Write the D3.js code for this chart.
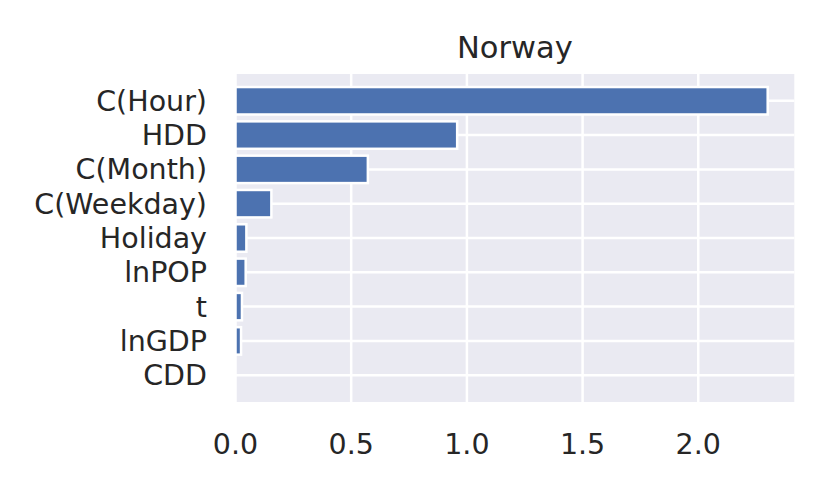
<!DOCTYPE html>
<html><head><meta charset="utf-8">
<script src="https://cdn.jsdelivr.net/npm/d3@7"></script>
<style>body{margin:0;background:#fff}svg{display:block}text{font-family:"DejaVu Sans",sans-serif;fill:#262626}</style>
</head><body>
<script>
const title = "Norway";
const categories = ["C(Hour)","HDD","C(Month)","C(Weekday)","Holiday","lnPOP","t","lnGDP","CDD"];
const values = [2.30, 0.958, 0.572, 0.155, 0.047, 0.044, 0.028, 0.024, 0.0];
const xTicks = [0, 0.5, 1.0, 1.5, 2.0];

const W = 830, H = 491;
const mLeft = 235.5, mRight = 794.3, mTop = 74, mBottom = 402;
const svg = d3.select("body").append("svg").attr("width", W).attr("height", H);

const x = d3.scaleLinear().domain([0, d3.max(values) * 1.05]).range([mLeft, mRight]);
const n = categories.length;
const y = d3.scaleLinear().domain([-0.78, n - 1 + 0.78]).range([mTop, mBottom]);

svg.append("rect").attr("x", mLeft).attr("y", mTop).attr("width", mRight - mLeft).attr("height", mBottom - mTop).attr("fill", "#EAEAF2");

// grid
svg.append("g").selectAll("line").data(xTicks).join("line")
  .attr("x1", d => x(d)).attr("x2", d => x(d)).attr("y1", mTop).attr("y2", mBottom)
  .attr("stroke", "#fff").attr("stroke-width", 2.5);
svg.append("g").selectAll("line").data(categories).join("line")
  .attr("x1", mLeft).attr("x2", mRight).attr("y1", (d, i) => y(i)).attr("y2", (d, i) => y(i))
  .attr("stroke", "#fff").attr("stroke-width", 2.5);

// bars
const bh = y(0.4) - y(0);
svg.append("g").selectAll("rect").data(values).join("rect")
  .attr("x", x(0)).attr("y", (d, i) => y(i) - bh)
  .attr("width", d => x(d) - x(0)).attr("height", 2 * bh)
  .attr("fill", "#4C72B0").attr("stroke", "#fff").attr("stroke-width", 2.5)
  .attr("opacity", d => d > 0 ? 1 : 0);

// y labels
svg.append("g").selectAll("text").data(categories).join("text")
  .attr("x", 207).attr("y", (d, i) => y(i)).attr("dy", "0.35em")
  .attr("text-anchor", "end").attr("font-size", 28.5).text(d => d);

// x labels
svg.append("g").selectAll("text").data(xTicks).join("text")
  .attr("x", d => x(d)).attr("y", 454).attr("text-anchor", "middle")
  .attr("font-size", 28.5).text(d => d3.format(".1f")(d));

svg.append("text").attr("x", (mLeft + mRight) / 2).attr("y", 58).attr("text-anchor", "middle")
  .attr("font-size", 30.5).text(title);
</script>
</body></html>
